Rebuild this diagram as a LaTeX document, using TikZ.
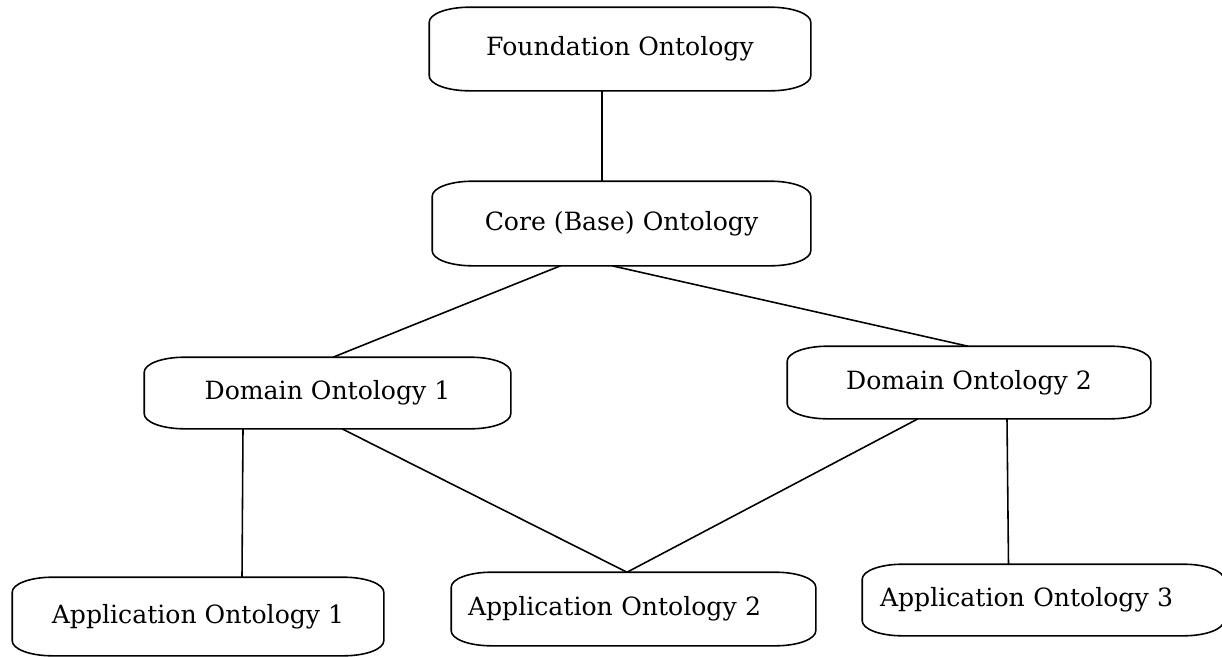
\documentclass[tikz,border=0pt]{standalone}
\usepackage{fontspec}
\setmainfont{DejaVu Serif}
\begin{document}
\begin{tikzpicture}[line width=.9pt,
	onto/.style={inner sep=0pt, font=\fontsize{14.3}{16}\selectfont},
	lefttext/.style={align=left, inner xsep=#1}]
		\useasboundingbox (0,0) rectangle (24.44,-13.12);
		% boxes
		\node [onto, minimum width=7.60cm, minimum height=1.64cm] (fo) at (12.40,-0.98) {Foundation Ontology};
		\node [onto, minimum width=7.54cm, minimum height=1.66cm] (co) at (12.43,-4.47) {Core (Base) Ontology};
		\node [onto, minimum width=7.30cm, minimum height=1.40cm] (d1) at (6.55,-7.86) {Domain Ontology 1};
		\node [onto, minimum width=7.24cm, minimum height=1.42cm] (d2) at (19.38,-7.65) {Domain Ontology 2};
		\node [onto, minimum width=7.40cm, minimum height=1.54cm] (a1) at (3.96,-12.33) {Application Ontology 1};
		\node [onto, lefttext=.32cm, text width=6.62cm, minimum height=1.44cm] (a2) at (12.67,-12.18) {Application Ontology 2};
		\node [onto, lefttext=.34cm, text width=6.52cm, minimum height=1.40cm] (a3) at (20.86,-12.00) {Application Ontology 3};
		\foreach \n in {fo, co, d1, d2, a1, a2, a3} {
			\draw ([xshift=8mm]\n.north west) -- ([xshift=-8mm]\n.north east)
				arc [start angle=90, end angle=0, x radius=8mm, y radius=3mm]
				-- ([yshift=3mm]\n.south east)
				arc [start angle=0, end angle=-90, x radius=8mm, y radius=3mm]
				-- ([xshift=8mm]\n.south west)
				arc [start angle=270, end angle=180, x radius=8mm, y radius=3mm]
				-- ([yshift=-3mm]\n.north west)
				arc [start angle=180, end angle=90, x radius=8mm, y radius=3mm];
		}
		% links
		\draw ([xshift=-.36cm]fo.south) -- ([xshift=-.39cm]co.north);
		\draw ([xshift=-1.22cm]co.south) -- ([xshift=.11cm]d1.north);
		\draw ([xshift=-.19cm]co.south) -- ([xshift=-.02cm]d2.north);
		\draw ([xshift=-1.69cm]d1.south) -- ([xshift=.88cm]a1.north);
		\draw ([xshift=.29cm]d1.south) -- ([xshift=-.13cm]a2.north);
		\draw ([xshift=-1.02cm]d2.south) -- ([xshift=-.13cm]a2.north);
		\draw ([xshift=.76cm]d2.south) -- ([xshift=-.69cm]a3.north);
	\end{tikzpicture}
\end{document}
